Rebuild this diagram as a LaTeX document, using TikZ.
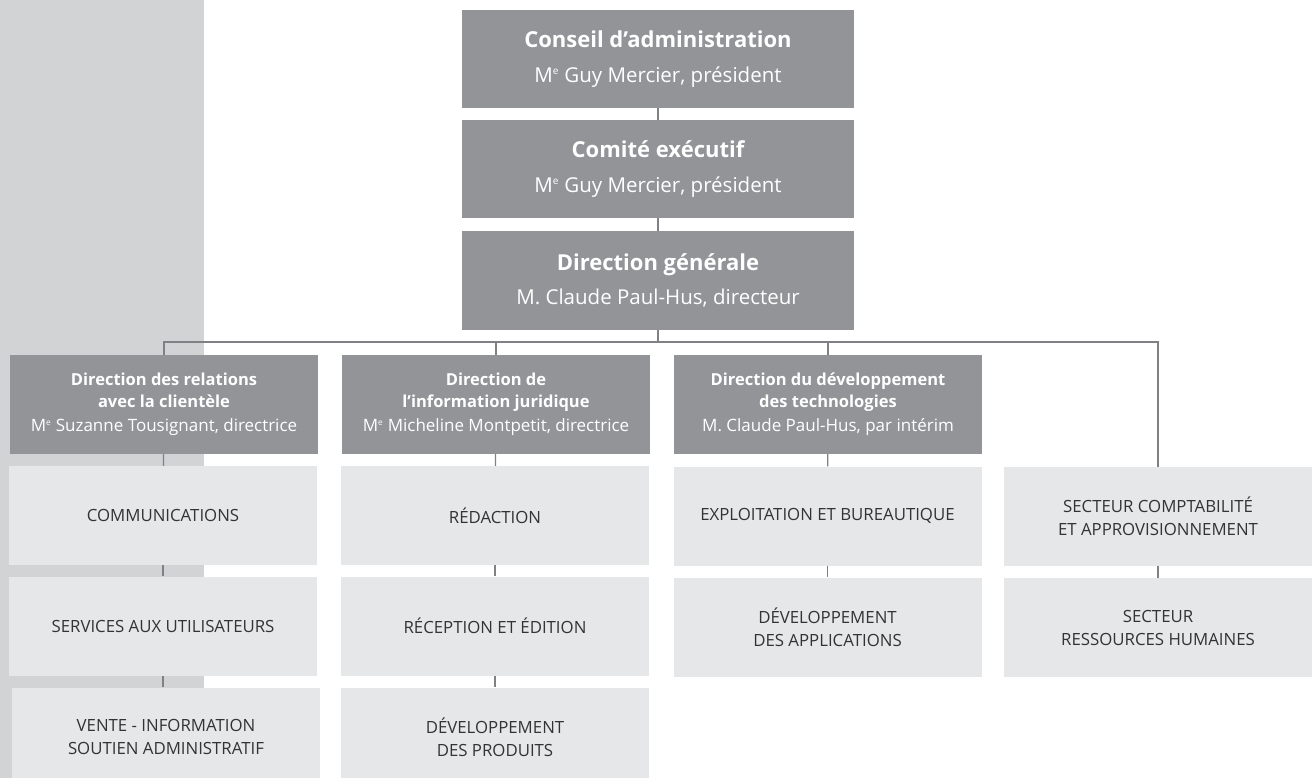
\documentclass[tikz,border=0pt]{standalone}
\usepackage{fontspec}
\setmainfont{Open Sans}
\usetikzlibrary{positioning}

\definecolor{bande}{HTML}{D1D3D4}
\definecolor{fonce}{HTML}{929497}
\definecolor{clair}{HTML}{E6E7E8}
\definecolor{trait}{HTML}{7F8184}
\definecolor{texte}{HTML}{333335}

\newcommand{\Me}{M\textsuperscript{\scalebox{0.7}{e}}}

\begin{document}
\begin{tikzpicture}[x=1pt,y=-1pt]
  % 定义样式
  \tikzset{headbox/.style = {rectangle, fill=fonce, text=white, inner sep=0pt,
      minimum width=392pt, minimum height=98pt, align=center,
      font=\fontsize{20.5}{34}\selectfont}}
  \tikzset{dirbox/.style = {rectangle, fill=fonce, text=white, inner sep=0pt,
      minimum width=308pt, minimum height=99pt, align=center,
      font=\fontsize{17}{22}\selectfont}}
  \tikzset{unitbox/.style = {rectangle, fill=clair, text=texte, inner sep=0pt,
      minimum width=308pt, minimum height=99pt, align=center,
      font=\fontsize{16.8}{23}\selectfont}}
  \tikzset{link/.style = {draw=trait, line width=1.3pt}}

  % 背景与边界
  \clip (0,0) rectangle (1312,778);
  \fill[bande] (0,0) rectangle (204,778);

  % 定义点
  \node[headbox] (ca) at (658,59)
    {{\bfseries\fontsize{22}{34}\selectfont Conseil d’administration}\\[1pt] \Me{} Guy Mercier, président};
  \node[headbox] (ce) at (658,169)
    {{\bfseries\fontsize{22}{34}\selectfont Comité exécutif}\\[1pt] \Me{} Guy Mercier, président};
  \node[headbox, minimum height=99pt] (dg) at (658,280.5)
    {{\bfseries\fontsize{22}{34}\selectfont Direction générale}\\ M. Claude Paul-Hus, directeur};
  \coordinate (bus) at (658,342);

  \node[dirbox] (d1) at (164,404.5)
    {{\bfseries\fontsize{16.5}{21}\selectfont Direction des relations}\\ {\bfseries\fontsize{16.5}{21}\selectfont avec la clientèle}\\[2pt] \Me{} Suzanne Tousignant, directrice};
  \node[dirbox] (d2) at (496,404.5)
    {{\bfseries\fontsize{16.5}{21}\selectfont Direction de}\\ {\bfseries\fontsize{16.5}{21}\selectfont l’information juridique}\\[2pt] \Me{} Micheline Montpetit, directrice};
  \node[dirbox] (d3) at (828,404.5)
    {{\bfseries\fontsize{16.5}{21}\selectfont Direction du développement}\\ {\bfseries\fontsize{16.5}{21}\selectfont des technologies}\\[2pt] M. Claude Paul-Hus, par intérim};

  \node[unitbox] (u11) at (163,515.5) {COMMUNICATIONS};
  \node[unitbox] (u12) at (163,626) {SERVICES AUX UTILISATEURS};
  \node[unitbox] (u13) at (166,737) {VENTE - INFORMATION\\ SOUTIEN ADMINISTRATIF};

  \node[unitbox] (u21) at (495,515.5) {RÉDACTION};
  \node[unitbox] (u22) at (495,626) {RÉCEPTION ET ÉDITION};
  \node[unitbox] (u23) at (495,737) {DÉVELOPPEMENT\\ DES PRODUITS};

  \node[unitbox] (u31) at (827.5,516) {EXPLOITATION ET BUREAUTIQUE};
  \node[unitbox] (u32) at (827.5,627) {DÉVELOPPEMENT\\ DES APPLICATIONS};

  \node[unitbox] (u41) at (1158,516.5) {SECTEUR COMPTABILITÉ\\ ET APPROVISIONNEMENT};
  \node[unitbox] (u42) at (1158,627.5) {SECTEUR\\ RESSOURCES HUMAINES};

  % 定义边
  \draw[link] (ca) -- (ce);
  \draw[link] (ce) -- (dg);
  \draw[link] (dg.south) -- (dg.south |- bus) -| (d1.north);
  \draw[link] (dg.south) -- (dg.south |- bus) -| (d2.north);
  \draw[link] (dg.south) -- (dg.south |- bus) -| (d3.north);
  \draw[link] (dg.south) -- (dg.south |- bus) -| (u41.north);

  \draw[link] (d1) -- (u11);
  \draw[link] (u11) -- (u12);
  \draw[link] (u12.south) -- (u12.south |- u13.north);
  \draw[link] (d2) -- (u21);
  \draw[link] (u21) -- (u22);
  \draw[link] (u22) -- (u23);
  \draw[link] (d3) -- (u31);
  \draw[link] (u31) -- (u32);
  \draw[link] (u41) -- (u42);
\end{tikzpicture}
\end{document}
